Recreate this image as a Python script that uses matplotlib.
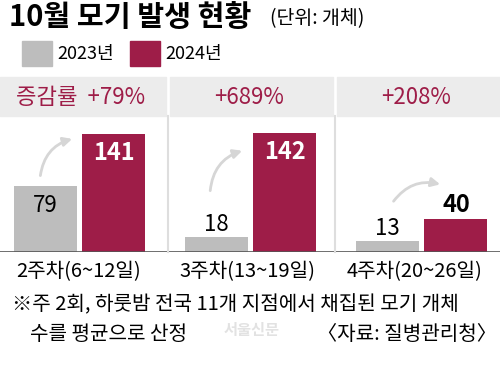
import matplotlib
matplotlib.use('Agg')
import matplotlib.pyplot as plt
from matplotlib.patches import Rectangle
from matplotlib.lines import Line2D

plt.rcParams['font.family'] = ['Noto Sans CJK KR', 'DejaVu Sans']

weeks = ['2주차(6~12일)', '3주차(13~19일)', '4주차(20~26일)']
v2023 = [79, 18, 13]
v2024 = [141, 142, 40]
changes = ['+79%', '+689%', '+208%']
years = ['2023년', '2024년']

GRAY = '#bdbdbd'
RED = '#9e1d48'
BAND = '#ececec'
W, H = 500, 368

fig = plt.figure(figsize=(5, 3.68), dpi=100)


def fx(x):
    return x / W


def fy(y):
    return 1 - y / H


# title
fig.text(fx(9), fy(17), '10월 모기 발생 현황', fontsize=21, fontweight='bold',
         va='center', ha='left')
fig.text(fx(270), fy(19), '(단위: 개체)', fontsize=14, va='center', ha='left')

# legend
for i, (lab, col) in enumerate(zip(years, [GRAY, RED])):
    x0 = 22 + i * 108
    fig.patches.append(Rectangle((fx(x0), fy(66)), fx(30), 25 / H,
                                 transform=fig.transFigure, color=col))
    fig.text(fx(x0 + 35), fy(54), lab, fontsize=13, va='center', ha='left')

# header bands and separators
bands = [(0, 166), (170, 333), (337, 500)]
for (a, b) in bands:
    fig.patches.append(Rectangle((fx(a), fy(116)), fx(b - a), 39 / H,
                                 transform=fig.transFigure, color=BAND))
for sx in [167.5, 335]:
    fig.lines.append(Line2D([fx(sx), fx(sx)], [fy(116), fy(252)],
                            transform=fig.transFigure, color='#dedede', lw=1.5))

for i, (a, b) in enumerate(bands):
    txt = changes[i] if i else '증감률  ' + changes[i]
    fig.text(fx((a + b) / 2 - 2), fy(98), txt, fontsize=16, color=RED,
             va='center', ha='center')

# bars
ax = fig.add_axes([0, fy(252), 1, (252 - 116) / H])
x = list(range(len(weeks)))
off, bw = 0.2, 0.368
ax.bar([i - off for i in x], v2023, bw, color=GRAY)
ax.bar([i + off for i in x], v2024, bw, color=RED)
ax.set_xlim(-0.466, 2.458)
ax.set_ylim(0, 162.5)
ax.axis('off')
ax.axhline(0, color='#555555', lw=1.2)

for i in x:
    g, r = v2023[i], v2024[i]
    if g > 40:
        ax.text(i - off, g - 23, str(g), ha='center', va='center', fontsize=16)
    else:
        ax.text(i - off, g + 15, str(g), ha='center', va='center', fontsize=16)
    if r > 60:
        ax.text(i + off, r - 23, str(r), ha='center', va='center', fontsize=17,
                fontweight='bold', color='white')
    else:
        ax.text(i + off, r + 16, str(r), ha='center', va='center', fontsize=17,
                fontweight='bold', color='black')

# curved arrows (start/end offsets in data units)
arrows = [((-0.232, 88), (-0.028, 136)),
          ((-0.238, 70), (-0.034, 122)),
          ((-0.174, 58), (0.124, 80))]
for i, (s, e) in enumerate(arrows):
    ax.annotate('', xy=(i + e[0], e[1]), xytext=(i + s[0], s[1]),
                arrowprops=dict(arrowstyle='-|>', color='#d6d6d6', lw=2,
                                mutation_scale=13,
                                connectionstyle='arc3,rad=-0.35'))

# category labels
for i, (a, b) in enumerate(bands):
    fig.text(fx((a + b) / 2 - 4), fy(272), weeks[i], fontsize=14.5,
             va='center', ha='center')

# footnote
fig.text(fx(12), fy(305), '※주 2회, 하룻밤 전국 11개 지점에서 채집된 모기 개체',
         fontsize=14.5, va='center', ha='left')
fig.text(fx(30), fy(335), '수를 평균으로 산정', fontsize=14.5, va='center', ha='left')
fig.text(fx(497), fy(335), '〈자료: 질병관리청〉', fontsize=14.5, va='center', ha='right')
fig.text(fx(252), fy(330), '서울신문', fontsize=11, fontweight='bold',
         color='#cfcfcf', alpha=0.6, va='center', ha='center')

fig.savefig('out.png', dpi=100)
